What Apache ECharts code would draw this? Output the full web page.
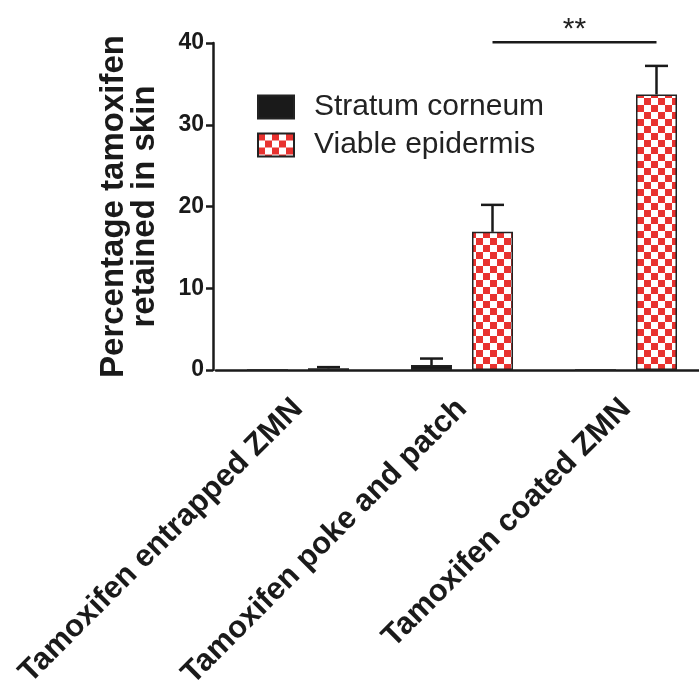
<!DOCTYPE html>
<html>
<head>
<meta charset="utf-8">
<script src="https://cdn.jsdelivr.net/npm/echarts@6/dist/echarts.min.js"></script>
<style>
html,body{margin:0;padding:0;background:#fff;}
#chart{width:699px;height:686px;}
</style>
</head>
<body>
<div id="chart"></div>
<script>
// ---- data ----
var categories = ['Tamoxifen entrapped ZMN', 'Tamoxifen poke and patch', 'Tamoxifen coated ZMN'];
var seriesNames = ['Stratum corneum', 'Viable epidermis'];
var stratumCorneum = [0, 0.6, 0];
var stratumCorneumErr = [0, 0.8, 0];
var viableEpidermis = [0.2, 16.9, 33.7];
var viableEpidermisErr = [0.15, 3.3, 3.5];
var yTicks = [0, 10, 20, 30, 40];
var sigPair = [1, 2];
var sigLevel = 40.1;
var sigText = '**';

// ---- styling ----
var FONT = '"Liberation Sans", Arial, Helvetica, sans-serif';
var BAR_W = 41, BAR_GAP = 20;
var OFF = (BAR_W + BAR_GAP) / 2;

function checker() {
  var c = document.createElement('canvas');
  c.width = 14; c.height = 14;
  var g = c.getContext('2d');
  g.fillStyle = '#ffffff'; g.fillRect(0, 0, 14, 14);
  g.fillStyle = '#e8322f';
  g.fillRect(0, 0, 7, 7); g.fillRect(7, 7, 7, 7);
  return c;
}
var pattern = { image: checker(), repeat: 'repeat' };

function errSeries(vals, errs, sign) {
  return {
    type: 'custom',
    z: 5,
    data: vals.map(function (v, i) { return [i, v, errs[i]]; }),
    renderItem: function (params, api) {
      var i = api.value(0), v = api.value(1), e = api.value(2);
      if (!e) return null;
      var p0 = api.coord([i, v]);
      var p1 = api.coord([i, v + e]);
      var x = p0[0] + sign * OFF;
      var st = { stroke: '#1a1a1a', lineWidth: 2.5 };
      return {
        type: 'group',
        children: [
          { type: 'line', shape: { x1: x, y1: p0[1], x2: x, y2: p1[1] }, style: st },
          { type: 'line', shape: { x1: x - 11.5, y1: p1[1], x2: x + 11.5, y2: p1[1] }, style: st }
        ]
      };
    },
    silent: true,
    tooltip: { show: false }
  };
}

var chart = echarts.init(document.getElementById('chart'), null, { renderer: 'canvas' });
chart.setOption({
  backgroundColor: '#ffffff',
  animation: false,
  textStyle: { fontFamily: FONT },
  grid: { left: 216, width: 492, top: 43, height: 327, containLabel: false, outerBoundsMode: 'none' },
  legend: {
    orient: 'vertical',
    left: 257, top: 92,
    padding: 0,
    itemWidth: 36, itemHeight: 23, itemGap: 8,
    icon: 'rect',
    data: seriesNames,
    textStyle: { fontFamily: FONT, fontSize: 30, color: '#222', padding: [0, 0, 0, 15] }
  },
  xAxis: {
    type: 'category',
    data: categories,
    axisLine: { lineStyle: { color: '#1a1a1a', width: 2.5 } },
    axisTick: { alignWithLabel: true, length: 7, lineStyle: { color: '#1a1a1a', width: 2.5 } },
    axisLabel: {
      interval: 0, rotate: 45, margin: 34,
      fontFamily: FONT, fontSize: 31, fontWeight: 'bold', color: '#1a1a1a'
    }
  },
  yAxis: {
    type: 'value',
    min: yTicks[0], max: yTicks[yTicks.length - 1], interval: 10,
    offset: 3,
    name: 'Percentage tamoxifen\nretained in skin',
    nameLocation: 'middle', nameRotate: 90, nameGap: 53,
    nameTextStyle: { fontFamily: FONT, fontSize: 33, fontWeight: 'bold', color: '#1a1a1a', lineHeight: 31 },
    axisLine: { show: true, lineStyle: { color: '#1a1a1a', width: 2.5 } },
    axisTick: { show: true, length: 7, lineStyle: { color: '#1a1a1a', width: 2.5 } },
    splitLine: { show: false },
    axisLabel: { margin: 9, fontFamily: FONT, fontSize: 23, fontWeight: 'bold', color: '#1a1a1a' }
  },
  series: [
    {
      name: seriesNames[0], type: 'bar', data: stratumCorneum,
      barWidth: BAR_W, barGap: (BAR_GAP / BAR_W * 100) + '%',
      itemStyle: { color: '#1a1a1a', borderColor: '#222', borderWidth: 1.5 }
    },
    {
      name: seriesNames[1], type: 'bar', data: viableEpidermis,
      barWidth: BAR_W,
      itemStyle: { color: pattern, borderColor: '#222', borderWidth: 1.5 }
    },
    errSeries(stratumCorneum, stratumCorneumErr, -1),
    errSeries(viableEpidermis, viableEpidermisErr, 1),
    {
      type: 'custom',
      z: 6,
      silent: true,
      data: [[sigPair[0], sigPair[1], sigLevel]],
      renderItem: function (params, api) {
        var a = api.coord([api.value(0), api.value(2)]);
        var b = api.coord([api.value(1), api.value(2)]);
        var x1 = a[0] + OFF, x2 = b[0] + OFF, y = a[1];
        return {
          type: 'group',
          children: [
            { type: 'line', shape: { x1: x1, y1: y, x2: x2, y2: y }, style: { stroke: '#1a1a1a', lineWidth: 2.5 } },
            { type: 'text', style: { x: (x1 + x2) / 2, y: y - 12, text: sigText, fontFamily: FONT, fontSize: 30, fill: '#222', align: 'center', verticalAlign: 'middle' } }
          ]
        };
      }
    }
  ]
});
</script>
</body>
</html>
